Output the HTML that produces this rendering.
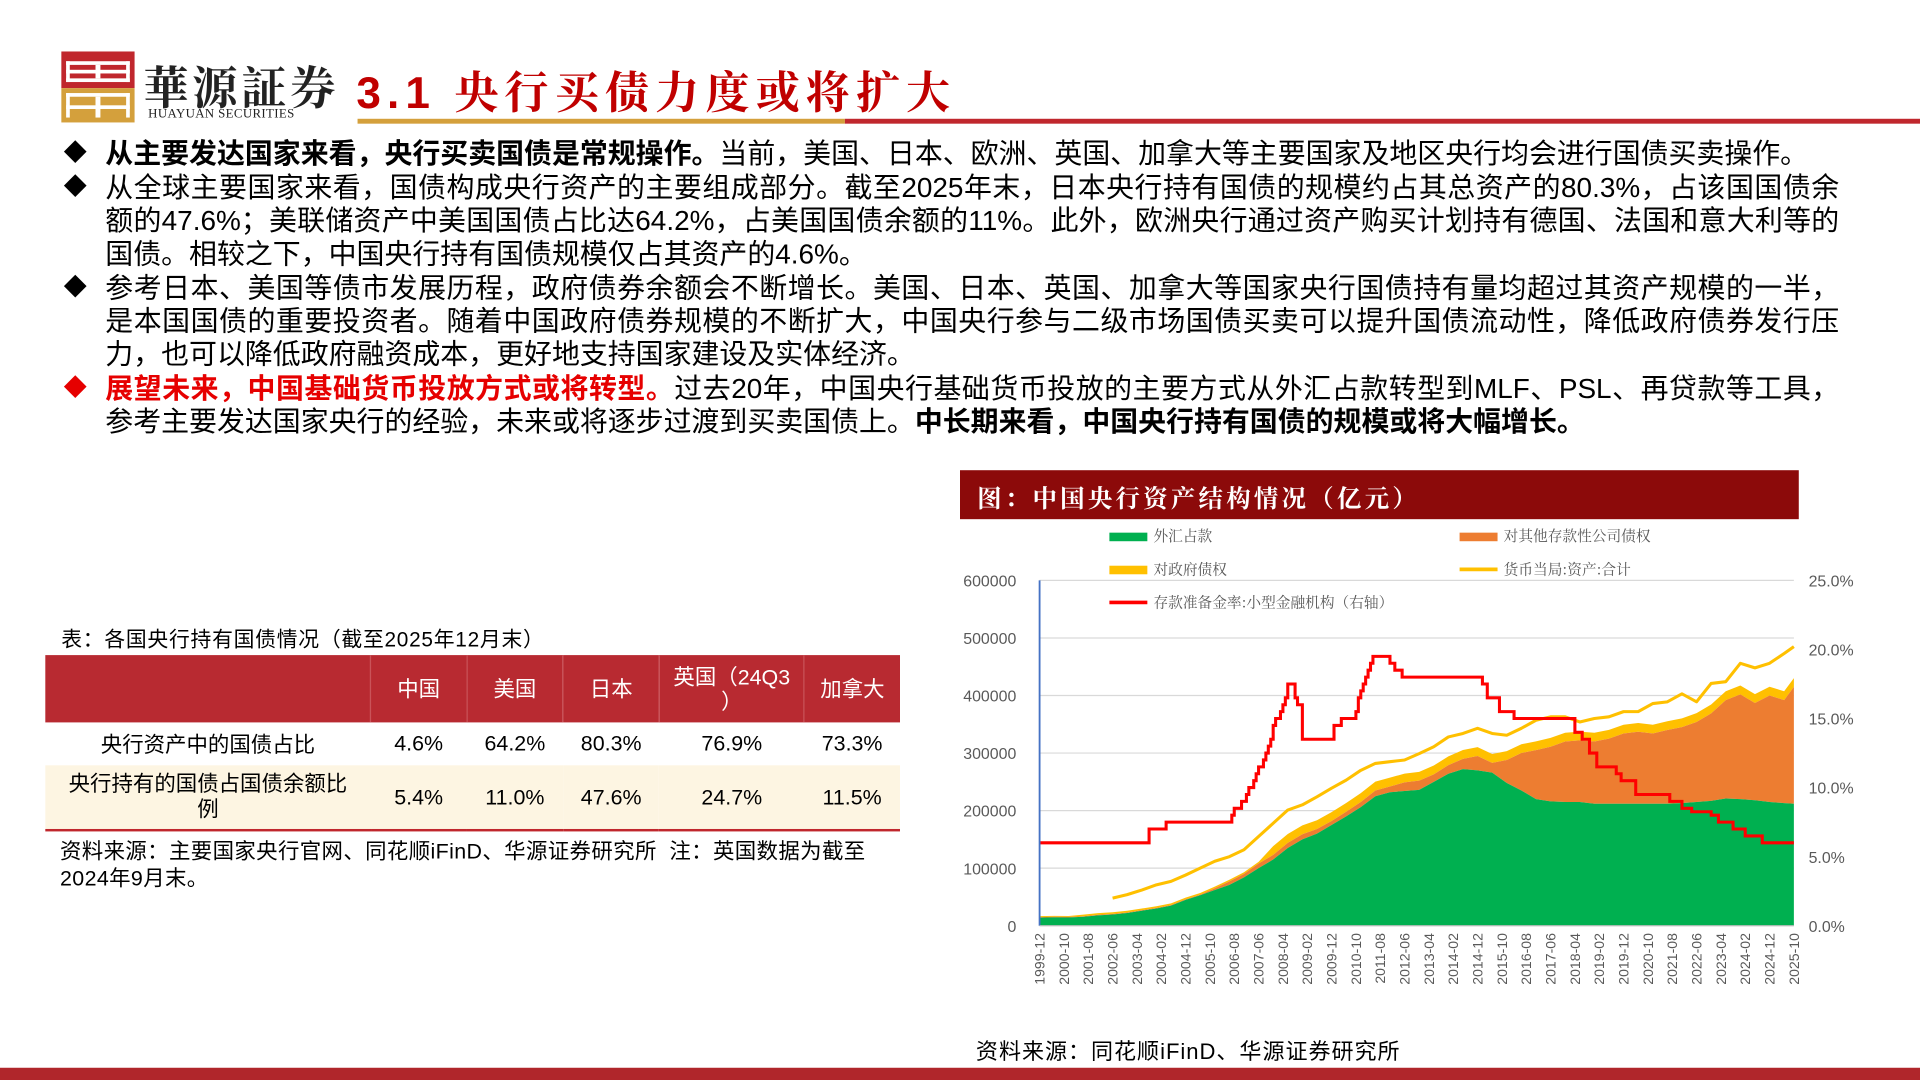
<!DOCTYPE html>
<html><head><meta charset="utf-8">
<style>
html,body{margin:0;padding:0;background:#fff;}
body{width:1920px;height:1080px;overflow:hidden;position:relative;}
#wrap{position:absolute;left:0;top:0;width:1568px;height:882px;transform:scale(1.22449);transform-origin:0 0;font-family:"Liberation Sans","Noto Sans CJK SC",sans-serif;color:#000;}
.abs{position:absolute;}
.line{position:absolute;left:86px;width:1416px;font-size:22.8px;line-height:27px;white-space:nowrap;text-align:justify;text-align-last:justify;}
.line.last{text-align-last:left;}
.bul{position:absolute;left:52px;font-size:19px;line-height:27px;}
b{font-weight:bold;}
.red{color:#e60000;}
table{border-collapse:collapse;}
td{font-size:17.5px;text-align:center;padding:0;}
</style></head><body>
<div id="wrap">
  <svg class="abs" style="left:50px;top:42px" width="60" height="58">
    <rect x="0" y="0" width="60" height="30" fill="#c0272d"/>
    <rect x="4" y="8" width="52" height="3" fill="#fff"/>
    <rect x="4" y="15" width="52" height="3" fill="#fff"/>
    <rect x="4" y="22" width="52" height="3" fill="#fff"/>
    <rect x="4" y="8" width="3" height="17" fill="#fff"/>
    <rect x="53" y="8" width="3" height="17" fill="#fff"/>
    <rect x="28" y="11" width="4" height="11" fill="#fff"/>
    <rect x="0" y="30" width="60" height="28" fill="#d4a03c"/>
    <rect x="4" y="34" width="52" height="3" fill="#fff"/>
    <rect x="4" y="44" width="52" height="3" fill="#fff"/>
    <rect x="4" y="34" width="3" height="20" fill="#fff"/>
    <rect x="53" y="34" width="3" height="20" fill="#fff"/>
    <rect x="28" y="37" width="4" height="17" fill="#fff"/>
  </svg>
  <div class="abs" style="left:117px;top:42px;font-family:'Noto Serif CJK SC',serif;font-weight:bold;font-size:37px;letter-spacing:3px;color:#222">華源証券</div>
  <div class="abs" style="left:121px;top:88px;font-family:'Liberation Serif',serif;font-size:10.5px;letter-spacing:0.3px;color:#222">HUAYUAN SECURITIES</div>
  <div class="abs" style="left:291px;top:48px;font-size:36px;font-weight:bold;color:#c00000;font-family:'Liberation Sans','Noto Serif CJK SC',serif;letter-spacing:5px">3.1 央行买债力度或将扩大</div>
  <div class="abs" style="left:292px;top:97px;width:398px;height:4px;background:#d4a03c"></div>
  <div class="abs" style="left:690px;top:97px;width:878px;height:4px;background:#c0272d"></div>

  <div>
    <div class="bul" style="top:112px">◆</div>
    <div class="line last" style="top:112px"><b>从主要发达国家来看，央行买卖国债是常规操作。</b>当前，美国、日本、欧洲、英国、加拿大等主要国家及地区央行均会进行国债买卖操作。</div>
    <div class="bul" style="top:140px">◆</div>
    <div class="line" style="top:140px">从全球主要国家来看，国债构成央行资产的主要组成部分。截至2025年末，日本央行持有国债的规模约占其总资产的80.3%，占该国国债余</div>
    <div class="line" style="top:167px">额的47.6%；美联储资产中美国国债占比达64.2%，占美国国债余额的11%。此外，欧洲央行通过资产购买计划持有德国、法国和意大利等的</div>
    <div class="line last" style="top:194px">国债。相较之下，中国央行持有国债规模仅占其资产的4.6%。</div>
    <div class="bul" style="top:222px">◆</div>
    <div class="line" style="top:222px">参考日本、美国等债市发展历程，政府债券余额会不断增长。美国、日本、英国、加拿大等国家央行国债持有量均超过其资产规模的一半，</div>
    <div class="line" style="top:249px">是本国国债的重要投资者。随着中国政府债券规模的不断扩大，中国央行参与二级市场国债买卖可以提升国债流动性，降低政府债券发行压</div>
    <div class="line last" style="top:276px">力，也可以降低政府融资成本，更好地支持国家建设及实体经济。</div>
    <div class="bul red" style="top:304px">◆</div>
    <div class="line" style="top:304px"><b class="red">展望未来，中国基础货币投放方式或将转型。</b>过去20年，中国央行基础货币投放的主要方式从外汇占款转型到MLF、PSL、再贷款等工具，</div>
    <div class="line last" style="top:331px">参考主要发达国家央行的经验，未来或将逐步过渡到买卖国债上。<b>中长期来看，中国央行持有国债的规模或将大幅增长。</b></div>
  </div>

  <div class="abs" style="left:50px;top:508px;font-size:17px;letter-spacing:0.6px">表：各国央行持有国债情况（截至2025年12月末）</div>
  <table class="abs" style="left:37px;top:535px;width:698px">
    <tr style="background:#b82a31;color:#fff;height:55px">
      <td style="width:268px"></td>
      <td style="width:78px;border-left:1px solid #c95359">中国</td>
      <td style="width:78px;border-left:1px solid #c95359">美国</td>
      <td style="width:78px;border-left:1px solid #c95359">日本</td>
      <td style="width:118px;border-left:1px solid #c95359;line-height:20px;vertical-align:top;padding-top:8px">英国（24Q3<br>）</td>
      <td style="width:78px;border-left:1px solid #c95359">加拿大</td>
    </tr>
    <tr style="height:35px;background:#fff">
      <td>央行资产中的国债占比</td><td>4.6%</td><td>64.2%</td><td>80.3%</td><td>76.9%</td><td>73.3%</td>
    </tr>
    <tr style="height:53px;background:#fdf5e2;border-bottom:2px solid #c0272d">
      <td style="line-height:21px">央行持有的国债占国债余额比<br>例</td><td>5.4%</td><td>11.0%</td><td>47.6%</td><td>24.7%</td><td>11.5%</td>
    </tr>
  </table>
  <div class="abs" style="left:49px;top:684px;font-size:17.5px;line-height:22px;letter-spacing:0.3px">资料来源：主要国家央行官网、同花顺iFinD、华源证券研究所&nbsp; 注：英国数据为截至<br>2024年9月末。</div>

  <div class="abs" style="left:784px;top:384px;width:685px;height:40px;background:#8c0a0a"></div>
  <div class="abs" style="left:798px;top:391px;font-size:20px;color:#fff;font-family:'Noto Serif CJK SC',serif;font-weight:bold;letter-spacing:2.6px">图：中国央行资产结构情况（亿元）</div>

  <svg id="chart" class="abs" style="left:0;top:0" width="1568" height="882"></svg>

  <div class="abs" style="left:797px;top:845px;font-size:18px;letter-spacing:0.8px">资料来源：同花顺iFinD、华源证券研究所</div>
  <div class="abs" style="left:0;top:872px;width:1568px;height:10px;background:#b0262b"></div>
</div>
<script>
const dates = ["1999-12","2000-06","2000-12","2001-06","2001-12","2002-06","2002-12","2003-06","2003-12","2004-06","2004-12","2005-06","2005-12","2006-06","2006-12","2007-06","2007-12","2008-06","2008-12","2009-06","2009-12","2010-06","2010-12","2011-06","2011-12","2012-06","2012-12","2013-06","2013-12","2014-06","2014-12","2015-06","2015-12","2016-06","2016-12","2017-06","2017-12","2018-06","2018-12","2019-06","2019-12","2020-06","2020-12","2021-06","2021-12","2022-06","2022-12","2023-06","2023-12","2024-06","2024-12","2025-06","2025-10"];
const fxReserves = [14000,14500,14300,15500,18000,19500,22000,26000,30000,35000,45000,53000,62000,71000,84000,100000,115000,135000,150000,160000,175000,190000,206000,225000,232000,234000,236000,250000,264000,272000,270000,266000,248000,235000,220000,216000,215000,215000,212000,212000,212000,212000,212000,212000,213000,215000,217000,221000,220000,218000,215000,213000,212000];
const otherDepository = [1000,1000,1000,1000,1000,1000,1000,1000,1000,1000,1000,1000,3000,6000,6000,8000,8000,9000,9000,8000,7000,8000,9000,10000,10000,15000,16000,13000,15000,18000,25000,17000,40000,65000,85000,95000,105000,107000,108000,113000,122000,125000,122000,128000,132000,139000,152000,171000,182000,169000,185000,179000,203000];
const govClaims = [1600,1600,1600,2800,2800,2800,2900,2900,2900,2900,2900,2900,2900,2900,2900,2900,15300,15300,15300,15300,15300,15300,15300,15300,15300,15300,15300,15300,15300,15300,15300,15300,15300,15300,15300,15300,15300,15300,15300,15300,15300,15300,15300,15300,15300,15300,15300,15300,15300,15300,15300,15300,15300];
const totalAssets = [null,null,null,null,null,48000,54000,62000,71000,77000,88000,100000,112000,120000,132000,155000,178000,201000,210000,224000,239000,253000,270000,282000,285000,288000,299000,311000,328000,334000,343000,334000,331000,343000,357000,363000,363000,354000,360000,363000,372000,372000,386000,389000,403000,389000,421000,424000,456000,448000,456000,473000,485000];
const rrrDates = ["1999-12","2003-09","2004-04","2006-07","2006-08","2006-11","2007-01","2007-02","2007-04","2007-05","2007-06","2007-08","2007-09","2007-10","2007-11","2007-12","2008-01","2008-03","2008-04","2008-05","2008-06","2008-09","2008-10","2008-12","2010-01","2010-04","2010-10","2010-11","2010-12","2011-01","2011-02","2011-03","2011-04","2011-05","2011-12","2012-02","2012-05","2015-02","2015-04","2015-09","2016-03","2018-04","2018-07","2018-10","2019-01","2019-09","2019-11","2020-05","2021-07","2021-12","2022-04","2022-12","2023-03","2023-09","2024-02","2024-09"];
const rrrValues = [6.0,7.0,7.5,8.0,8.5,9.0,9.5,10.0,10.5,11.0,11.5,12.0,12.5,13.0,13.5,14.5,15.0,15.5,16.0,16.5,17.5,16.5,16.0,13.5,14.5,15.0,15.5,16.5,17.0,17.5,18.0,18.5,19.0,19.5,19.0,18.5,18.0,17.5,16.5,15.5,15.0,14.0,13.5,12.5,11.5,11.0,10.5,9.5,9.0,8.5,8.25,8.0,7.5,7.0,6.5,6.0];
const leftTicks = [0,100000,200000,300000,400000,500000,600000];
const rightTicks = ["0.0%","5.0%","10.0%","15.0%","20.0%","25.0%"];
const rightTickValues = [0,5,10,15,20,25];
const endDate = "2025-10";

const NS="http://www.w3.org/2000/svg";
const svg=document.getElementById('chart');
const X0=849,X1=1465,Y0=756,Y1=474;
function mIdx(s){const [y,m]=s.split('-').map(Number);return (y-1999)*12+(m-12);}
const span=mIdx(endDate);
function xs(s){return X0+mIdx(s)*(X1-X0)/span;}
function yl(v){return Y0-v*(Y0-Y1)/600000;}
function yr(v){return Y0-v*(Y0-Y1)/25;}
function mk(tag,attrs,parent){const e=document.createElementNS(NS,tag);for(const k in attrs)e.setAttribute(k,attrs[k]);(parent||svg).appendChild(e);return e;}

leftTicks.forEach(v=>{
  if(v>0){const g=mk('line',{x1:X0,x2:X1,y1:yl(v),y2:yl(v),stroke:'#d9d9d9','stroke-width':1});
  
  }
  const t=mk('text',{x:830,y:yl(v)+5,'text-anchor':'end','font-size':13,fill:'#595959','font-family':'Liberation Sans, sans-serif'});
  t.textContent=v;
  
  
});
rightTickValues.forEach((v,i)=>{
  const t=mk('text',{x:1477,y:yr(v)+5,'font-size':13,fill:'#595959','font-family':'Liberation Sans, sans-serif'});
  t.textContent=rightTicks[i];
  
  
});

const base=fxReserves.map(()=>0);
const s1=fxReserves.map((v,i)=>v);
const s2=s1.map((v,i)=>v+otherDepository[i]);
const s3=s2.map((v,i)=>v+govClaims[i]);
function area(lo,hi,color,name){
  let d='M'+xs(dates[0])+','+yl(hi[0]);
  for(let i=1;i<dates.length;i++)d+='L'+xs(dates[i])+','+yl(hi[i]);
  for(let i=dates.length-1;i>=0;i--)d+='L'+xs(dates[i])+','+yl(lo[i]);
  const p=mk('path',{d:d+'Z',fill:color,stroke:'none'});
  
  
}
area(s2,s3,'#ffc000','area-government-claims');
area(s1,s2,'#ed7d31','area-other-depository-claims');
area(base,s1,'#00b050','area-fx-reserves');

let d='';let started=false;
totalAssets.forEach((v,i)=>{if(v===null)return;d+=(started?'L':'M')+xs(dates[i])+','+yl(v);started=true;});
const tl=mk('path',{d:d,fill:'none',stroke:'#ffc000','stroke-width':2.5,'stroke-linejoin':'round'});



let rd='M'+xs(rrrDates[0])+','+yr(rrrValues[0]);
for(let i=1;i<rrrDates.length;i++){rd+='L'+xs(rrrDates[i])+','+yr(rrrValues[i-1])+'L'+xs(rrrDates[i])+','+yr(rrrValues[i]);}
rd+='L'+xs(endDate)+','+yr(rrrValues[rrrValues.length-1]);
const rl=mk('path',{d:rd,fill:'none',stroke:'#ff0000','stroke-width':2.5});



const ax=mk('line',{x1:X0,x2:X0,y1:Y1,y2:Y0,stroke:'#4472c4','stroke-width':1.5});


const bx=mk('line',{x1:X0,x2:X1,y1:Y0,y2:Y0,stroke:'#bfbfbf','stroke-width':1});



for(let m=0;m<=span;m+=10){
  const y=1999+Math.floor((m+11)/12), mo=((m+11)%12)+1;
  const lab=y+'-'+String(mo).padStart(2,'0');
  const x=xs(lab);
  const t=mk('text',{x:0,y:0,'text-anchor':'end','font-size':11.5,fill:'#595959','font-family':'Liberation Sans, sans-serif',transform:'translate('+(x+4)+',762) rotate(-90)'});
  t.textContent=lab;
  
  
}

const legend=[
  {x:906,y:438,type:'rect',c:'#00b050',t:'外汇占款'},
  {x:1192,y:438,type:'rect',c:'#ed7d31',t:'对其他存款性公司债权'},
  {x:906,y:465,type:'rect',c:'#ffc000',t:'对政府债权'},
  {x:1192,y:465,type:'line',c:'#ffc000',t:'货币当局:资产:合计'},
  {x:906,y:492,type:'line',c:'#ff0000',t:'存款准备金率:小型金融机构（右轴）'}
];
legend.forEach(L=>{
  const g=mk('g',{});
  
  
  if(L.type==='rect')mk('rect',{x:L.x,y:L.y-3,width:31,height:7,fill:L.c},g);
  else mk('line',{x1:L.x,x2:L.x+31,y1:L.y,y2:L.y,stroke:L.c,'stroke-width':3},g);
  const t=mk('text',{x:L.x+36,y:L.y+4,'font-size':12,fill:'#595959','font-family':'Noto Serif CJK SC, serif'},g);
  t.textContent=L.t;
});
</script>
</body></html>
